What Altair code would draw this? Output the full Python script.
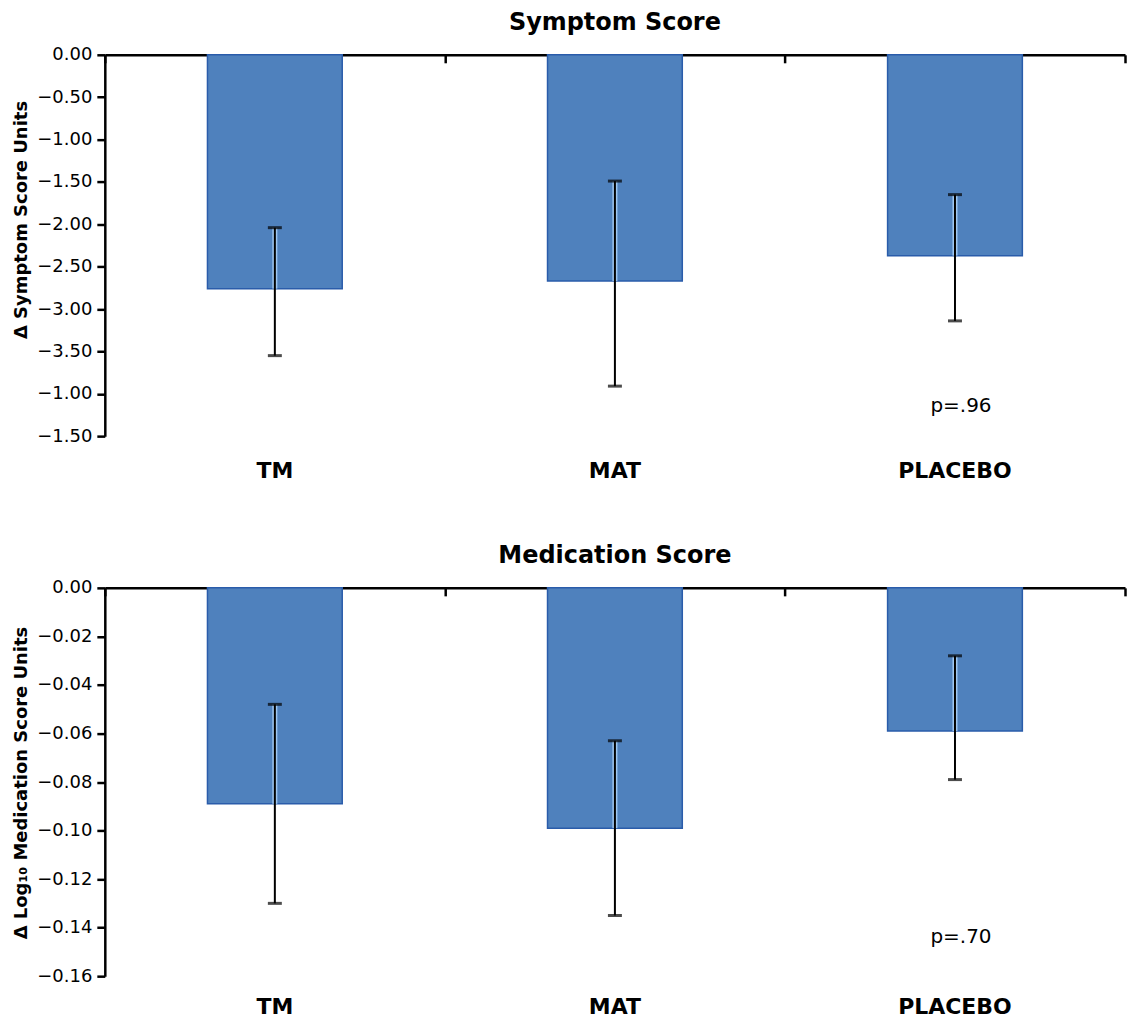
import altair as alt
import pandas as pd

# ---------------- data ----------------
categories = ["TM", "MAT", "PLACEBO"]

symptom_mean = [-2.76, -2.67, -2.37]
symptom_hi = [-2.04, -1.49, -1.65]
symptom_lo = [-3.55, -3.91, -3.14]

med_mean = [-0.089, -0.099, -0.059]
med_hi = [-0.048, -0.063, -0.028]
med_lo = [-0.130, -0.135, -0.079]

symptom_ticks = [0.0, -0.5, -1.0, -1.5, -2.0, -2.5, -3.0, -3.5, -4.0, -4.5]
symptom_tick_labels = ["0.00", "−0.50", "−1.00", "−1.50", "−2.00", "−2.50",
                       "−3.00", "−3.50", "−1.00", "−1.50"]

med_ticks = [0.0, -0.02, -0.04, -0.06, -0.08, -0.10, -0.12, -0.14, -0.16]
med_tick_labels = ["0.00", "−0.02", "−0.04", "−0.06", "−0.08", "−0.10",
                   "−0.12", "−0.14", "−0.16"]

panel_titles = ["Symptom Score", "Medication Score"]
y_titles = ["Δ Symptom Score Units", "Δ Log₁₀ Medication Score Units"]
p_labels = ["p=.96", "p=.70"]
p_label_y = [-4.15, -0.144]
p_label_cat = "PLACEBO"

BAR_FILL = "#4F81BD"
BAR_STROKE = "#2A5CAA"
HALO = "#9FC8F2"
FONT = "DejaVu Sans"


def label_expr(ticks, labels):
    parts = [f"abs(datum.value - ({v})) < 1e-9 ? '{l}'" for v, l in zip(ticks, labels)]
    return " : ".join(parts) + " : ''"


def panel(mean, hi, lo, ticks, labels, title, ytitle, height, ptext, py,
          label_pad, ytitle_y):
    df = pd.DataFrame({"cat": categories, "mean": mean, "hi": hi, "lo": lo})
    pdf = pd.DataFrame({"cat": [p_label_cat], "y": [py], "t": [ptext]})

    xscale = alt.Scale(domain=categories, paddingInner=0, paddingOuter=0)
    yscale = alt.Scale(domain=[ticks[-1], 0], nice=False)
    yaxis = alt.Axis(
        values=ticks, labelExpr=label_expr(ticks, labels), title=ytitle,
        titleX=-83, titleY=ytitle_y, titleAngle=-90, titleAlign="center",
        titleBaseline="middle", titleFontSize=18, titleFontWeight="bold",
        titleColor="black", labelFontSize=18, labelColor="black",
        labelPadding=5, tickSize=8, tickWidth=2.5, tickColor="black",
        domainColor="black", domainWidth=2.5, grid=False,
    )
    no_x_axis = alt.X("cat:N", scale=xscale, sort=categories, axis=None)

    base = alt.Chart(df)
    bars = base.mark_bar(size=135, color=BAR_FILL, stroke=BAR_STROKE,
                         strokeWidth=1.5).encode(
        x=alt.X("cat:N", scale=xscale, sort=categories,
                axis=alt.Axis(title=None, labelAngle=0, ticks=False, domain=False,
                              labelFontSize=22, labelFontWeight="bold",
                              labelColor="black", labelPadding=label_pad,
                              orient="bottom")),
        y=alt.Y("mean:Q", scale=yscale, axis=yaxis),
    )
    halo = base.mark_rule(color=HALO, strokeWidth=5).encode(
        x=no_x_axis, y=alt.Y("hi:Q", scale=yscale, axis=yaxis), y2="mean:Q")
    err = base.mark_rule(color="black", strokeWidth=2).encode(
        x=alt.X("cat:N", scale=xscale, sort=categories,
                axis=alt.Axis(title=None, labels=False, domain=True,
                              domainColor="black", domainWidth=2.5, ticks=True,
                              tickBand="extent", tickSize=8, tickWidth=2.5,
                              tickColor="black", offset=-height, orient="bottom")),
        y=alt.Y("hi:Q", scale=yscale, axis=yaxis), y2="lo:Q")
    cap_hi = base.mark_tick(color="black", thickness=3, size=14).encode(
        x=no_x_axis, y=alt.Y("hi:Q", scale=yscale, axis=yaxis))
    cap_lo = base.mark_tick(color="black", thickness=3, size=14).encode(
        x=no_x_axis, y=alt.Y("lo:Q", scale=yscale, axis=yaxis))
    ptxt = alt.Chart(pdf).mark_text(fontSize=20, color="black", dx=6).encode(
        x=no_x_axis, y=alt.Y("y:Q", scale=yscale, axis=yaxis), text="t:N")

    return alt.layer(bars, halo, err, cap_hi, cap_lo, ptxt).resolve_axis(
        x="independent"
    ).properties(
        width=1022, height=height,
        title=alt.TitleParams(title, fontSize=24, fontWeight="bold", color="black",
                              offset=11, anchor="middle"),
    )


top = panel(symptom_mean, symptom_hi, symptom_lo, symptom_ticks, symptom_tick_labels,
            panel_titles[0], y_titles[0], 382, p_labels[0], p_label_y[0], 24, 165)
bottom = panel(med_mean, med_hi, med_lo, med_ticks, med_tick_labels,
               panel_titles[1], y_titles[1], 389, p_labels[1], p_label_y[1], 20, 195)

chart = alt.vconcat(top, bottom, spacing=63).properties(
    padding={"left": 12, "top": 10, "right": 0, "bottom": 0}
).configure(font=FONT).configure_view(stroke=None)

chart.save("out.html", embed_options={"renderer": "svg", "actions": False})
